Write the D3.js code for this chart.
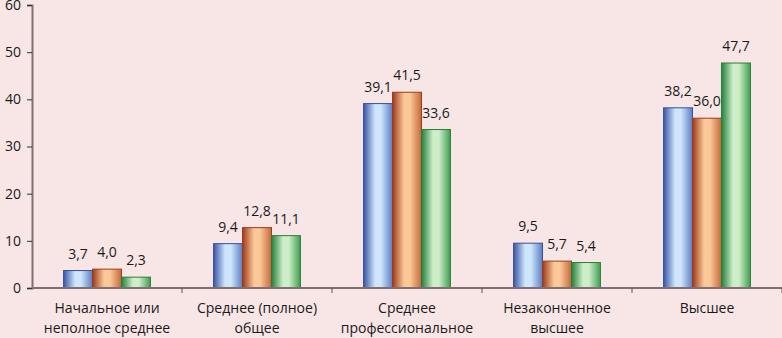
<!DOCTYPE html>
<html>
<head>
<meta charset="utf-8">
<script src="https://cdn.jsdelivr.net/npm/d3@7"></script>
<style>
  html, body { margin: 0; padding: 0; background: #f8e5e5; }
  svg text { font-family: "Open Sans", "Noto Sans", sans-serif; fill: #1a1a1a; }
</style>
</head>
<body>
<svg id="chart" width="782" height="338"></svg>
<script>
const categories = [
  ["Начальное или", "неполное среднее"],
  ["Среднее (полное)", "общее"],
  ["Среднее", "профессиональное"],
  ["Незаконченное", "высшее"],
  ["Высшее"]
];
const seriesBlue = [3.7, 9.4, 39.1, 9.5, 38.2];
const seriesOrange = [4.0, 12.8, 41.5, 5.7, 36.0];
const seriesGreen = [2.3, 11.1, 33.6, 5.4, 47.7];
const yTicks = [0, 10, 20, 30, 40, 50, 60];

const series = [
  { key: "blue", values: seriesBlue, dark: "#3a55a8", light: "#cde6fb", mid: "#5b7cc4", edge: "#3a4e96" },
  { key: "orange", values: seriesOrange, dark: "#9c3a1a", light: "#fbc898", mid: "#c8683a", edge: "#9a3c1c" },
  { key: "green", values: seriesGreen, dark: "#22803a", light: "#cdeec8", mid: "#3f9e50", edge: "#2a7d3a" }
];

const svg = d3.select("#chart");
const margin = { left: 32, right: 0, top: 5, bottom: 50 };
const width = 782, height = 338;

const x = d3.scaleBand()
  .domain(d3.range(categories.length))
  .range([margin.left, width - margin.right])
  .paddingInner(0)
  .paddingOuter(0);

const y = d3.scaleLinear().domain([0, 60]).range([height - margin.bottom, margin.top]);

const xs = d3.scaleBand()
  .domain(series.map(s => s.key))
  .range([0, x.bandwidth()])
  .paddingInner(0)
  .paddingOuter(1.09);

// gradients
const defs = svg.append("defs");
series.forEach(s => {
  const g = defs.append("linearGradient")
    .attr("id", "grad-" + s.key)
    .attr("x1", "0%").attr("x2", "100%").attr("y1", "0%").attr("y2", "0%");
  g.append("stop").attr("offset", "0%").attr("stop-color", s.dark);
  g.append("stop").attr("offset", "40%").attr("stop-color", s.light);
  g.append("stop").attr("offset", "60%").attr("stop-color", s.light);
  g.append("stop").attr("offset", "100%").attr("stop-color", s.mid);
});

// bars
series.forEach(s => {
  svg.append("g").selectAll("rect")
    .data(s.values)
    .enter().append("rect")
    .attr("x", (d, i) => x(i) + xs(s.key))
    .attr("y", d => y(d))
    .attr("width", xs.bandwidth())
    .attr("height", d => y(0) - y(d))
    .attr("fill", "url(#grad-" + s.key + ")")
    .attr("stroke", s.edge)
    .attr("stroke-width", 1);

  svg.append("g").selectAll("text")
    .data(s.values)
    .enter().append("text")
    .attr("x", (d, i) => x(i) + xs(s.key) + xs.bandwidth() / 2)
    .attr("y", d => y(d) - 12)
    .attr("text-anchor", "middle")
    .attr("font-size", "14px")
    .text(d => d.toFixed(1).replace(".", ","));
});

// y axis
const yAxis = svg.append("g")
  .attr("transform", `translate(${margin.left},0)`)
  .call(d3.axisLeft(y).tickValues(yTicks).tickSize(5).tickPadding(6));
yAxis.selectAll("text").attr("font-size", "14px").style("font-family", "'Open Sans', sans-serif");
yAxis.select(".domain").attr("stroke", "#7f6f72").attr("stroke-width", 2);
yAxis.selectAll(".tick line").attr("stroke", "#333");

// x axis
const xAxis = svg.append("g")
  .attr("transform", `translate(0,${y(0)})`);
xAxis.append("line")
  .attr("x1", margin.left).attr("x2", width)
  .attr("stroke", "#7f6f72").attr("stroke-width", 2);
xAxis.selectAll(".xt")
  .data(d3.range(1, categories.length + 1))
  .enter().append("line")
  .attr("x1", i => x(i - 1) + x.bandwidth()).attr("x2", i => x(i - 1) + x.bandwidth())
  .attr("y1", 0).attr("y2", 5)
  .attr("stroke", "#555");

// category labels
const catLabels = svg.append("g").selectAll("text")
  .data(categories)
  .enter().append("text")
  .attr("x", (d, i) => x(i) + x.bandwidth() / 2)
  .attr("y", y(0) + 25)
  .attr("text-anchor", "middle")
  .attr("font-size", "14px");
catLabels.each(function (lines) {
  const t = d3.select(this);
  lines.forEach((l, j) => {
    t.append("tspan")
      .attr("x", t.attr("x"))
      .attr("dy", j === 0 ? 0 : 20)
      .text(l);
  });
});
</script>
</body>
</html>
